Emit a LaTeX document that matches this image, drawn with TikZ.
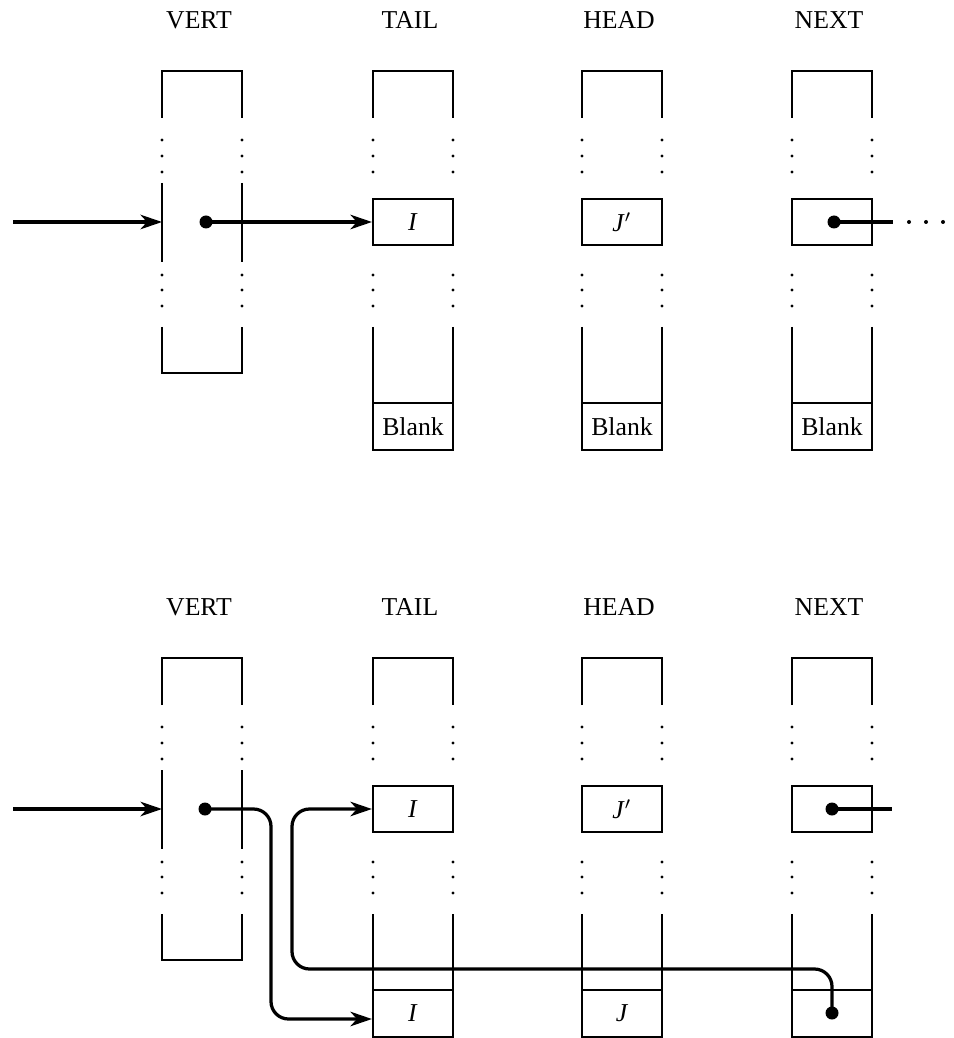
\documentclass[tikz,border=0pt]{standalone}
\usepackage{fontspec}
\setmainfont{Liberation Serif}
\usetikzlibrary{arrows.meta}

\tikzset{
  wall/.style={line width=.85pt},
  cell/.style={draw,line width=.85pt,minimum width=32pt,minimum height=18.4pt,inner sep=0pt},
  ptr/.style={line width=1.3pt,-{Stealth[length=8.6pt,width=5.8pt,inset=2.6pt]}},
  pdot/.style={circle,fill,inner sep=0pt,minimum size=5.2pt},
  hdr/.style={inner sep=0pt}
}

\begin{document}
\begin{tikzpicture}[x=.4pt,y=-.4pt,font=\fontsize{10.3}{12}\selectfont]
  \useasboundingbox (0,0) rectangle (953,1038);
  % column frames, both panels
  \foreach \pan/\T in {a/71,b/658} {
    \foreach \col/\xl/\lbl in {vert/162/VERT,tail/373/TAIL,head/582/HEAD,next/792/NEXT} {
      \node[hdr] (\col-hdr-\pan) at (\xl+37,\T-51) {\lbl};
      \draw[wall] (\xl,\T+47) |- (\xl+80,\T) -- (\xl+80,\T+47);
      \foreach \d in {69,85,101,204,219,235}
        \fill (\xl,\T+\d) circle[radius=.65pt] (\xl+80,\T+\d) circle[radius=.65pt];
    }
    % VERT: open middle, closed bottom
    \draw[wall] (162,\T+112) -- (162,\T+191) (242,\T+112) -- (242,\T+191);
    \draw[wall] (162,\T+256) |- (242,\T+302) -- (242,\T+256);
    % TAIL, HEAD, NEXT: middle cell and long bottom
    \foreach \col/\xl/\val in {tail/373/\textit{I},head/582/\textit{J}$'$,next/792/{}} {
      \node[cell] (\col-mid-\pan) at (\xl+40,\T+151) {\val};
      \draw[wall] (\xl,\T+256) -- (\xl,\T+332) (\xl+80,\T+256) -- (\xl+80,\T+332);
    }
  }
  % last cells
  \foreach \col/\xl in {tail/373,head/582,next/792}
    \node[cell,minimum height=18.8pt] (\col-low-a) at (\xl+40,426.5) {Blank};
  \node[cell,minimum height=18.8pt] (tail-low-b) at (413,1013.5) {\textit{I}};
  \node[cell,minimum height=18.8pt] (head-low-b) at (622,1013.5) {\textit{J}};
  \node[cell,minimum height=18.8pt] (next-low-b) at (832,1013.5) {};

  % top panel pointers
  \coordinate (src-a) at (13,222);
  \coordinate (vert-in-a) at (162,222);
  \node[pdot] (vert-ptr-a) at (206,222) {};
  \node[pdot] (next-ptr-a) at (834,222) {};
  \coordinate (next-out-a) at (893,222);
  \draw[ptr] (src-a) -- (vert-in-a);
  \draw[ptr] (vert-ptr-a.center) -- (tail-mid-a.west);
  \draw[line width=1.3pt] (next-ptr-a.center) -- (next-out-a);
  \foreach \x in {909,926,943} \fill (\x,222) circle[radius=.8pt];

  % bottom panel pointers
  \coordinate (src-b) at (13,809);
  \coordinate (vert-in-b) at (162,809);
  \node[pdot] (vert-ptr-b) at (205,809) {};
  \node[pdot] (next-ptr-b) at (832,809) {};
  \node[pdot] (next-low-ptr-b) at (832,1013) {};
  \coordinate (next-out-b) at (892,809);
  \coordinate (turn-b) at (271,1019);
  \draw[ptr] (src-b) -- (vert-in-b);
  \draw[line width=1.3pt] (next-ptr-b.center) -- (next-out-b);
  \draw[ptr,rounded corners=7pt] (vert-ptr-b.center) -| (turn-b) -- ([yshift=-2.2pt]tail-low-b.west);
  \draw[ptr,rounded corners=7pt] (next-low-ptr-b.center) |- (292,969) |- (tail-mid-b.west);
\end{tikzpicture}
\end{document}
